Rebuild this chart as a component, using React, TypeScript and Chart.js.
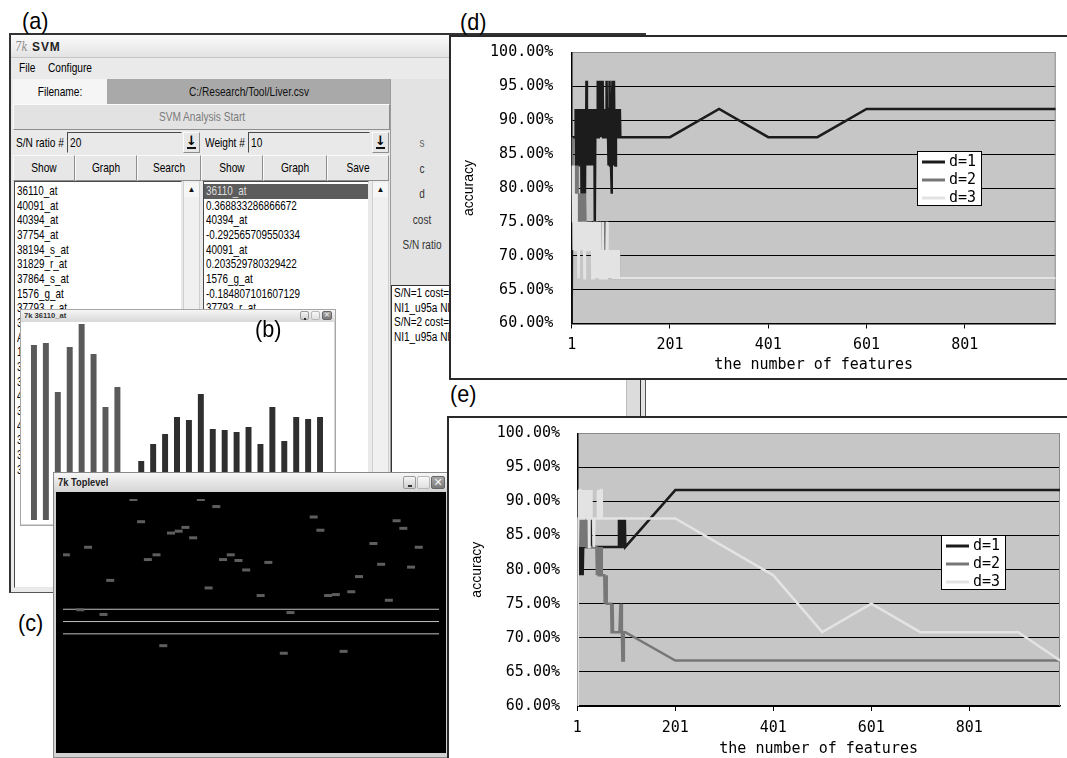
import React, { useEffect, useRef } from "react";
import { Chart, registerables } from "chart.js";

Chart.register(...registerables);

// ================= DATA =================
// Accuracy charts (d) and (e): accuracy stored as correctly classified test samples out of 24.
const TEST_SAMPLES = 24;
const seriesLabels = ["d=1", "d=2", "d=3"];
const xTickValues = [1, 201, 401, 601, 801];
const yTickMin = 60;
const yTickMax = 100;
const yTickStep = 5;
const lastFeature = 986;
// feature counts evaluated after the first 100
const sparseFeatures = [201, 301, 401, 501, 601, 701, 801, 901, 986];

// (d) counts for 1..100 features
const dD1Dense = [
  14, 21, 21, 21, 21, 21, 21, 21, 22, 19,
  22, 20, 22, 20, 22, 21, 20, 22, 20, 22,
  19, 22, 20, 19, 22, 20, 21, 19, 22, 20,
  23, 20, 22, 20, 22, 20, 22, 20, 22, 20,
  21, 20, 22, 20, 22, 20, 22, 18, 21, 22,
  21, 22, 21, 23, 21, 22, 23, 21, 23, 22,
  23, 21, 22, 23, 21, 22, 21, 22, 21, 22,
  21, 23, 21, 22, 21, 20, 22, 23, 20, 22,
  20, 19, 22, 23, 20, 22, 23, 21, 22, 20,
  22, 21, 22, 21, 22, 21, 22, 21, 22, 21,
];
const dD2Dense = [
  21, 19, 20, 18, 20, 19, 18, 20, 19, 18,
  19, 20, 18, 19, 18, 19, 18, 19, 18, 19,
  18, 19, 18, 19, 18, 19, 18, 19, 18, 17,
  18, 17, 18, 17, 18, 17, 18, 17, 18, 17,
  18, 17, 18, 17, 18, 17, 18, 17, 18, 17,
  18, 17, 18, 17, 18, 17, 18, 17, 18, 17,
  18, 17, 17, 18, 17, 18, 17, 17, 18, 17,
  17, 18, 17, 16, 17, 16, 17, 16, 17, 16,
  17, 16, 17, 16, 17, 16, 17, 16, 17, 16,
  17, 16, 17, 16, 17, 16, 17, 16, 16, 16,
];
const dD3Dense = [
  20, 19, 18, 20, 17, 19, 18, 17, 18, 19,
  17, 18, 17, 18, 16, 18, 17, 18, 17, 18,
  17, 18, 17, 18, 17, 18, 16, 18, 17, 18,
  17, 18, 17, 18, 17, 18, 17, 18, 17, 18,
  17, 18, 16, 17, 16, 17, 18, 16, 17, 16,
  17, 16, 18, 16, 17, 16, 17, 18, 16, 17,
  16, 17, 16, 18, 16, 17, 16, 17, 16, 17,
  16, 17, 18, 16, 17, 16, 17, 16, 17, 16,
  17, 16, 17, 16, 17, 16, 17, 16, 17, 16,
  17, 16, 17, 16, 17, 16, 17, 16, 16, 16,
];
const dD1Sparse = [21, 22, 21, 21, 22, 22, 22, 22, 22];
const dD2Sparse = [16, 16, 16, 16, 16, 16, 16, 16, 16];
const dD3Sparse = [16, 16, 16, 16, 16, 16, 16, 16, 16];

// (e) counts for 1..100 features
const eD1Dense = [
  20, 19, 20, 19, 20, 19, 21, 19, 21, 20,
  21, 19, 20, 21, 20, 20, 20, 20, 20, 21,
  20, 21, 20, 21, 20, 21, 20, 21, 20, 20,
  20, 20, 20, 20, 20, 20, 20, 20, 20, 20,
  20, 20, 20, 20, 20, 20, 20, 20, 20, 20,
  20, 20, 20, 20, 20, 20, 20, 20, 20, 20,
  20, 20, 20, 20, 20, 20, 20, 20, 20, 20,
  20, 20, 20, 20, 20, 20, 20, 20, 20, 20,
  20, 20, 20, 20, 20, 21, 20, 21, 20, 21,
  20, 21, 20, 21, 20, 21, 20, 21, 20, 20,
];
const eD2Dense = [
  20, 20, 21, 20, 21, 20, 21, 20, 21, 20,
  21, 20, 21, 20, 21, 20, 21, 20, 21, 20,
  20, 21, 20, 21, 20, 20, 20, 20, 20, 20,
  20, 20, 20, 20, 20, 20, 20, 20, 20, 20,
  19, 20, 19, 20, 19, 19, 20, 19, 19, 20,
  19, 19, 19, 19, 19, 19, 18, 19, 18, 19,
  18, 18, 18, 18, 18, 18, 18, 18, 18, 18,
  17, 17, 18, 17, 17, 17, 17, 17, 17, 17,
  17, 17, 17, 17, 17, 17, 17, 17, 18, 17,
  18, 17, 16, 17, 16, 17, 17, 17, 17, 17,
];
const eD3Dense = [
  14, 20, 21, 22, 21, 22, 22, 21, 22, 22,
  21, 22, 21, 21, 21, 21, 22, 21, 22, 22,
  21, 22, 21, 22, 20, 21, 22, 21, 22, 21,
  21, 21, 21, 21, 20, 21, 21, 21, 21, 21,
  21, 21, 22, 21, 22, 21, 22, 21, 22, 22,
  21, 21, 21, 21, 21, 21, 21, 21, 21, 21,
  21, 21, 21, 21, 21, 21, 21, 21, 21, 21,
  21, 21, 21, 21, 21, 21, 21, 21, 21, 21,
  21, 21, 21, 21, 21, 21, 21, 21, 21, 21,
  21, 21, 21, 21, 21, 21, 21, 21, 21, 21,
];
const eD1Sparse = [22, 22, 22, 22, 22, 22, 22, 22, 22];
const eD2Sparse = [16, 16, 16, 16, 16, 16, 16, 16, 16];
const eD3Sparse = [21, 20, 19, 17, 18, 17, 17, 17, 16];

// (b) expression bar chart of gene 36110_at
const barValues = [175, 177, 128, 173, 196, 166, 113, 133, null, 59, 76, 86, 103, 100, 126, 91, 90, 88, 93, 76, 113, 79, 103, 101, 103];
const barGroups = ["A", "A", "A", "A", "A", "A", "A", "A", "-", "B", "B", "B", "B", "B", "B", "B", "B", "B", "B", "B", "B", "B", "B", "B", "B"];
const barMax = 196;

// (c) Toplevel marks (column, row)
const toplevelX = [73, 143, 159, 81, 260, 267, 346, 353, 112, 120, 127, 135, 26, 3, 97, 88, 174, 166, 182, 190, 213, 322, 369, 330, 361, 307, 49, 151, 205, 275, 283, 299, 338, 18, 42, 236, 104, 229, 291];
const toplevelY = [0.5, 0.5, 8, 24, 19, 33, 23, 31, 36, 34, 30, 41, 51, 59, 59, 64, 59, 64, 65, 75, 67, 47, 51, 69, 72, 82, 86, 94, 102, 102, 101, 98, 107, 117, 122, 120, 155, 163, 161];
const toplevelLineRows = [116.5, 129.5, 142.5];
const toplevelCols = 390;
const toplevelRowsMax = 261;

// GUI texts
const list1Items = ["36110_at", "40091_at", "40394_at", "37754_at", "38194_s_at", "31829_r_at", "37864_s_at", "1576_g_at", "37793_r_at", "39318_at", "AFFX-CreX-3_at", "1450_g_at", "32207_at", "35530_f_at", "41164_at", "33273_f_at", "40335_at", "38604_at", "36879_at", "33908_at"];
const list2Items = ["36110_at", "0.368833286866672", "40394_at", "-0.292565709550334", "40091_at", "0.203529780329422", "1576_g_at", "-0.184807101607129", "37793_r_at", "0.158207348116926", "39318_at", "-0.142930275688103"];
const paramLabels = ["s", "c", "d", "cost", "S/N ratio"];
const logLines = ["S/N=1 cost=1 d=1", "NI1_u95a NI1_u95a", "S/N=2 cost=1 d=1", "NI1_u95a NI1_u95a"];
const buttonLabels = ["Show", "Graph", "Search", "Show", "Graph", "Save"];

// ================= CHART HELPERS =================
const lineColors = ["#1c1c1c", "#777777", "#e3e3e3"];
const MONO = "'DejaVu Sans Mono', monospace";

function buildSeries(dense: number[], sparse: number[]) {
  return [
    ...dense.map((k, i) => ({ x: i + 1, y: (k / TEST_SAMPLES) * 100 })),
    ...sparse.map((k, i) => ({ x: sparseFeatures[i], y: (k / TEST_SAMPLES) * 100 })),
  ];
}

const plotFramePlugin = {
  id: "plotFrame",
  beforeDraw(chart: any) {
    const { ctx, chartArea: a } = chart;
    ctx.save();
    ctx.fillStyle = "#c6c6c6";
    ctx.fillRect(a.left, a.top, a.right - a.left, a.bottom - a.top);
    ctx.restore();
  },
  beforeDatasetsDraw(chart: any) {
    const { ctx, chartArea: a } = chart;
    ctx.save();
    ctx.strokeStyle = "#8a8a8a";
    ctx.lineWidth = 1;
    ctx.beginPath();
    ctx.moveTo(a.right - 0.5, a.top);
    ctx.lineTo(a.right - 0.5, a.bottom);
    ctx.stroke();
    ctx.restore();
  },
};

const boxLegendPlugin = {
  id: "boxLegend",
  afterDraw(chart: any, _args: any, opts: any) {
    const { ctx, chartArea: a } = chart;
    const x = Math.round(a.left + opts.dx);
    const y = Math.round(a.top + opts.dy);
    ctx.save();
    ctx.fillStyle = "#fff";
    ctx.fillRect(x, y, opts.width, opts.height);
    ctx.strokeStyle = "#000";
    ctx.lineWidth = 1;
    ctx.strokeRect(x + 0.5, y + 0.5, opts.width - 1, opts.height - 1);
    chart.data.datasets.forEach((ds: any, i: number) => {
      const ry = y + opts.firstRow + i * opts.rowGap;
      ctx.strokeStyle = ds.borderColor;
      ctx.lineWidth = 3;
      ctx.beginPath();
      ctx.moveTo(x + 5, ry);
      ctx.lineTo(x + 28, ry);
      ctx.stroke();
      ctx.fillStyle = "#000";
      ctx.font = "15px " + MONO;
      ctx.textBaseline = "middle";
      ctx.textAlign = "left";
      ctx.fillText(ds.label, x + 32, ry + 0.5);
    });
    ctx.restore();
  },
};

function accuracyConfig(series: any[], g: any) {
  return {
    type: "line",
    data: {
      datasets: series.map((pts, i) => ({
        label: seriesLabels[i],
        data: pts,
        borderColor: lineColors[i],
        backgroundColor: lineColors[i],
        borderWidth: 2.5,
        pointRadius: 0,
        tension: 0,
        fill: false,
        order: 3 - i,
      })),
    },
    options: {
      responsive: false,
      animation: false,
      devicePixelRatio: 1,
      events: [],
      layout: { padding: { top: g.padTop, right: g.padRight, left: 0, bottom: 0 } },
      scales: {
        x: {
          type: "linear",
          min: 1,
          max: lastFeature,
          afterBuildTicks: (s: any) => {
            s.ticks = xTickValues.map((v) => ({ value: v }));
          },
          afterFit: (s: any) => {
            s.height = g.xAxisHeight;
          },
          grid: { drawOnChartArea: false, drawTicks: true, tickLength: 5, color: "#000" },
          border: { color: "#000", width: 1.5 },
          ticks: {
            autoSkip: false,
            maxRotation: 0,
            padding: g.xTickPad,
            color: "#000",
            font: { family: MONO, size: 15 },
            callback: (v: any) => String(v),
          },
          title: {
            display: true,
            text: "the number of features",
            color: "#000",
            font: { family: MONO, size: 15 },
            padding: { top: 0, bottom: g.xTitlePad },
          },
        },
        y: {
          min: yTickMin,
          max: yTickMax,
          afterFit: (s: any) => {
            s.width = g.yAxisWidth;
            s.paddingTop = 0;
            s.paddingBottom = 0;
          },
          grid: {
            color: (c: any) => (c.tick && c.tick.value === yTickMax ? "#8a8a8a" : "#000"),
            lineWidth: 1,
            drawTicks: false,
          },
          border: { color: "#000", width: 1.5 },
          ticks: {
            stepSize: yTickStep,
            padding: g.yTickPad,
            color: "#000",
            font: { family: MONO, size: 15 },
            callback: (v: any) => Number(v).toFixed(2) + "%",
          },
          title: {
            display: true,
            text: "accuracy",
            color: "#000",
            font: { family: "'Liberation Sans', Arial, sans-serif", size: 14 },
            padding: { top: g.yTitlePad, bottom: 0 },
          },
        },
      },
      plugins: {
        legend: { display: false },
        tooltip: { enabled: false },
        boxLegend: { dx: g.legendDx, dy: g.legendDy, width: 65, height: 55, firstRow: 11, rowGap: 18 },
      },
    },
    plugins: [plotFramePlugin, boxLegendPlugin],
  };
}

function barConfig() {
  return {
    type: "bar",
    data: {
      labels: barGroups.map((g, i) => g + (i + 1)),
      datasets: [
        {
          data: barValues,
          backgroundColor: barGroups.map((g) => (g === "A" ? "#5a5a5a" : "#2f2f2f")),
          barPercentage: 0.5,
          categoryPercentage: 1,
          borderWidth: 0,
        },
      ],
    },
    options: {
      responsive: false,
      animation: false,
      devicePixelRatio: 1,
      events: [],
      layout: { padding: 0 },
      scales: {
        x: { display: false },
        y: { display: false, min: 0, max: barMax },
      },
      plugins: { legend: { display: false }, tooltip: { enabled: false } },
    },
  };
}

function toplevelConfig() {
  return {
    type: "scatter",
    data: {
      datasets: [
        {
          data: toplevelX.map((x, i) => ({ x, y: toplevelY[i] })),
          pointStyle: "line",
          pointRadius: 4,
          pointBorderWidth: 3,
          pointBorderColor: "#5e5e5e",
          borderColor: "#5e5e5e",
          backgroundColor: "#5e5e5e",
        },
        ...toplevelLineRows.map((r) => ({
          data: [
            { x: 0, y: r },
            { x: toplevelCols, y: r },
          ],
          showLine: true,
          borderColor: "#c2c2c2",
          borderWidth: 1,
          pointRadius: 0,
        })),
      ],
    },
    options: {
      responsive: false,
      animation: false,
      devicePixelRatio: 1,
      events: [],
      layout: { padding: 0 },
      scales: {
        x: { display: false, min: 0, max: toplevelCols },
        y: { display: false, min: 0, max: toplevelRowsMax, reverse: true },
      },
      plugins: { legend: { display: false }, tooltip: { enabled: false } },
    },
  };
}

function ChartBox({ x, y, w, h, make, bg }: any) {
  const ref = useRef<HTMLCanvasElement>(null);
  useEffect(() => {
    const chart = new Chart(ref.current as any, make() as any);
    return () => chart.destroy();
  }, []);
  return (
    <canvas
      ref={ref}
      width={w}
      height={h}
      style={{ position: "absolute", left: x, top: y, width: w, height: h, background: bg || "transparent" }}
    />
  );
}

// ================= GUI HELPERS =================
const P = ({ x, y, w, h, s, children }: any) => (
  <div style={{ position: "absolute", left: x, top: y, width: w, height: h, boxSizing: "border-box", ...s }}>{children}</div>
);

const T = ({ x, y, t, size = 13, sx = 0.78, c = "#000", center = false, bold = false, italic = false, ls = 0, family = "'Liberation Sans', Arial, sans-serif" }: any) => {
  const lh = Math.round(size * 1.25);
  const base: any = {
    position: "absolute",
    top: y - lh / 2,
    height: lh,
    lineHeight: lh + "px",
    fontSize: size,
    fontFamily: family,
    color: c,
    fontWeight: bold ? 700 : 400,
    fontStyle: italic ? "italic" : "normal",
    whiteSpace: "nowrap",
    letterSpacing: ls,
    transform: `scaleX(${sx})`,
  };
  if (center) {
    return <div style={{ ...base, left: x - 200, width: 400, textAlign: "center", transformOrigin: "center center" }}>{t}</div>;
  }
  return <div style={{ ...base, left: x, transformOrigin: "left center" }}>{t}</div>;
};

const raised = { borderTop: "1px solid #fafafa", borderLeft: "1px solid #fafafa", borderRight: "1px solid #8e8e8e", borderBottom: "1px solid #8e8e8e" };
const sunken = { borderTop: "1px solid #4a4a4a", borderLeft: "1px solid #4a4a4a", borderRight: "1px solid #e8e8e8", borderBottom: "1px solid #e8e8e8" };

function DownButton({ x }: any) {
  return (
    <P x={x} y={132} w={17} h={21} s={{ background: "#e6e6e6", ...raised }}>
      <div style={{ position: "absolute", left: 0, width: 15, top: 0, textAlign: "center", fontSize: 13, fontWeight: 700, lineHeight: "15px", fontFamily: "'DejaVu Sans', sans-serif" }}>↓</div>
      <div style={{ position: "absolute", left: 3, top: 14, width: 9, height: 2, background: "#111" }} />
    </P>
  );
}

function Scrollbar({ x, y, h }: any) {
  return (
    <P x={x} y={y} w={17} h={h} s={{ background: "#f0f0f0", borderLeft: "1px solid #cfcfcf", borderRight: "1px solid #cfcfcf" }}>
      <div style={{ position: "absolute", left: 0, top: 2, width: 15, height: 14, textAlign: "center", fontSize: 8, lineHeight: "14px", color: "#111", background: "#f6f6f6" }}>▲</div>
    </P>
  );
}

function WinButtons({ x, y, size, gap }: any) {
  return (
    <>
      <P x={x} y={y} w={size} h={size} s={{ background: "linear-gradient(#f4f4f4,#cfcfcf)", border: "1px solid #9a9a9a", borderRadius: 2 }}>
        <div style={{ position: "absolute", left: size * 0.3, top: size * 0.62, width: size * 0.3, height: 2, background: "#333" }} />
      </P>
      <P x={x + size + gap} y={y} w={size} h={size} s={{ background: "linear-gradient(#f8f8f8,#e0e0e0)", border: "1px solid #b8b8b8", borderRadius: 2 }} />
      <P x={x + 2 * (size + gap)} y={y} w={size + 1} h={size} s={{ background: "linear-gradient(#a8a8a8,#7a7a7a)", border: "1px solid #666", borderRadius: 2, color: "#f4f4f4", fontSize: size - 2, lineHeight: size - 2 + "px", textAlign: "center", fontFamily: "'DejaVu Sans', sans-serif" }}>✕</P>
    </>
  );
}

function SvmWindow() {
  const btnEdges = [13, 75, 137, 201, 263, 327, 389];
  return (
    <>
      <P x={9} y={33} w={637} h={560} s={{ background: "#eaeaea", border: "1px solid #555", borderTop: "2px solid #333", borderLeft: "2px solid #333" }} />
      <P x={11} y={35} w={634} h={23} s={{ background: "linear-gradient(#fbfbfb,#e3e3e3)", borderBottom: "1px solid #c4c4c4" }} />
      <T x={15} y={47} t="7k" size={12} sx={0.85} c="#8a8a8a" italic family="'DejaVu Serif', serif" />
      <T x={32} y={47} t="SVM" size={13} sx={0.92} ls={1} bold c="#222" />
      <T x={19} y={68} t="File" />
      <T x={48} y={68} t="Configure" />

      <P x={13} y={79} w={94} h={25} s={{ background: "#f5f5f5" }} />
      <T x={60} y={91.5} t="Filename:" center />
      <P x={107} y={79} w={283} h={25} s={{ background: "#a9a9a9" }} />
      <T x={248.5} y={91.5} t="C:/Research/Tool/Liver.csv" center c="#111" />
      <P x={13} y={104} w={377} h={26} s={{ background: "#e2e2e2", ...raised }} />
      <T x={201.5} y={117} t="SVM Analysis Start" center c="#7c7c7c" />

      <T x={16} y={142.5} t="S/N ratio #" />
      <P x={67} y={132} w={115} h={21} s={{ background: "#e9e9e9", ...sunken }} />
      <T x={70} y={142.5} t="20" />
      <DownButton x={183} />
      <T x={205} y={142.5} t="Weight #" />
      <P x={248} y={132} w={122} h={21} s={{ background: "#e9e9e9", ...sunken }} />
      <T x={251} y={142.5} t="10" />
      <DownButton x={372} />

      {buttonLabels.map((b, i) => (
        <React.Fragment key={"b" + i}>
          <P x={btnEdges[i]} y={155} w={btnEdges[i + 1] - btnEdges[i]} h={26} s={{ background: "#e7e7e7", ...raised }} />
          <T x={(btnEdges[i] + btnEdges[i + 1]) / 2} y={168} t={b} center />
        </React.Fragment>
      ))}

      <P x={14} y={181} w={168} h={407} s={{ background: "#fff", ...sunken }} />
      {list1Items.map((t, i) => (
        <T key={"l1" + i} x={16.5} y={191 + i * 14.67} t={t} sx={0.76} />
      ))}
      <Scrollbar x={183} y={181} h={407} />

      <P x={203} y={181} w={166} h={407} s={{ background: "#fff", ...sunken }} />
      <P x={204} y={184} w={164} h={14.5} s={{ background: "#5c5c5c" }} />
      {list2Items.map((t, i) => (
        <T key={"l2" + i} x={206} y={191 + i * 14.67} t={t} sx={0.76} c={i === 0 ? "#dedede" : "#000"} />
      ))}
      <Scrollbar x={372} y={181} h={407} />

      <P x={390} y={79} w={255} h={513} s={{ background: "#e3e3e3", borderLeft: "1px solid #9a9a9a" }} />
      {paramLabels.map((t, i) => (
        <T key={"pl" + i} x={421.7} y={143 + i * 25.5} t={t} size={12.5} sx={0.8} c={i === 0 ? "#666" : "#333"} center />
      ))}
      <P x={391} y={285} w={250} h={303} s={{ background: "#fff", border: "1px solid #333" }} />
      {logLines.map((t, i) => (
        <T key={"lg" + i} x={394} y={293.3 + i * 14.5} t={t} size={12.5} sx={0.8} />
      ))}
      <P x={626} y={286} w={14} h={301} s={{ background: "#dcdcdc", borderLeft: "1px solid #bdbdbd" }} />
    </>
  );
}

function GraphWindow() {
  return (
    <>
      <P x={20} y={309} w={316} h={217} s={{ background: "#d6d6d6", border: "1px solid #a6a6a6" }} />
      <P x={21} y={310} w={314} h={12} s={{ background: "linear-gradient(#f6f6f6,#d8d8d8)" }} />
      <T x={24} y={316} t="7k 36110_at" size={8} sx={0.95} bold c="#333" />
      <WinButtons x={300} y={311} size={9} gap={2} />
      <P x={21} y={322} w={313} h={202} s={{ background: "#fff" }} />
      <ChartBox x={28} y={324} w={298} h={196} make={barConfig} />
    </>
  );
}

function ToplevelWindow() {
  return (
    <>
      <P x={53} y={472} w={396} h={286} s={{ background: "#d2d2d2", border: "1px solid #8a8a8a" }} />
      <P x={54} y={473} w={394} h={18} s={{ background: "linear-gradient(#f6f6f6,#d6d6d6)" }} />
      <T x={58} y={482} t="7k Toplevel" size={11} sx={0.85} bold c="#222" />
      <WinButtons x={403} y={476} size={13} gap={1} />
      <ChartBox x={56} y={492} w={390} h={261} make={toplevelConfig} bg="#000" />
    </>
  );
}

const geoD = { padTop: 15.5, padRight: 11.3, yAxisWidth: 120.7, xAxisHeight: 54.5, yTickPad: 18.4, yTitlePad: 9.6, xTickPad: 7.5, xTitlePad: 4, legendDx: 345, legendDy: 98.5 };
const geoE = { padTop: 15.3, padRight: 7, yAxisWidth: 128.3, xAxisHeight: 52, yTickPad: 17.3, yTitlePad: 19.3, xTickPad: 8, xTitlePad: 0, legendDx: 363.4, legendDy: 101.7 };

const seriesD = [buildSeries(dD1Dense, dD1Sparse), buildSeries(dD2Dense, dD2Sparse), buildSeries(dD3Dense, dD3Sparse)];
const seriesE = [buildSeries(eD1Dense, eD1Sparse), buildSeries(eD2Dense, eD2Sparse), buildSeries(eD3Dense, eD3Sparse)];

const Label = ({ x, y, t }: any) => (
  <div style={{ position: "absolute", left: x, top: y, fontSize: 24, lineHeight: "24px", fontFamily: "'Liberation Sans', Arial, sans-serif", color: "#000", transform: "scaleX(0.9)", transformOrigin: "left center", whiteSpace: "nowrap" }}>{t}</div>
);

export default function App() {
  return (
    <div style={{ position: "fixed", left: 0, top: 0, width: 1067, height: 758, overflow: "hidden", background: "#fff" }}>
      <SvmWindow />
      <GraphWindow />
      <ToplevelWindow />

      <P x={449} y={35} w={618} h={345} s={{ background: "#fff", borderTop: "2px solid #2a2a2a", borderLeft: "2px solid #2a2a2a", borderBottom: "2px solid #2a2a2a" }} />
      <ChartBox x={451} y={37} w={616} h={341} make={() => accuracyConfig(seriesD, geoD)} />

      <P x={447} y={416} w={620} h={400} s={{ background: "#fff", borderTop: "2px solid #2a2a2a", borderLeft: "2px solid #2a2a2a" }} />
      <ChartBox x={449} y={418} w={618} h={340} make={() => accuracyConfig(seriesE, geoE)} />

      <Label x={22} y={9} t="(a)" />
      <Label x={255} y={317} t="(b)" />
      <Label x={18} y={611} t="(c)" />
      <Label x={460} y={10} t="(d)" />
      <Label x={450} y={382} t="(e)" />
    </div>
  );
}
